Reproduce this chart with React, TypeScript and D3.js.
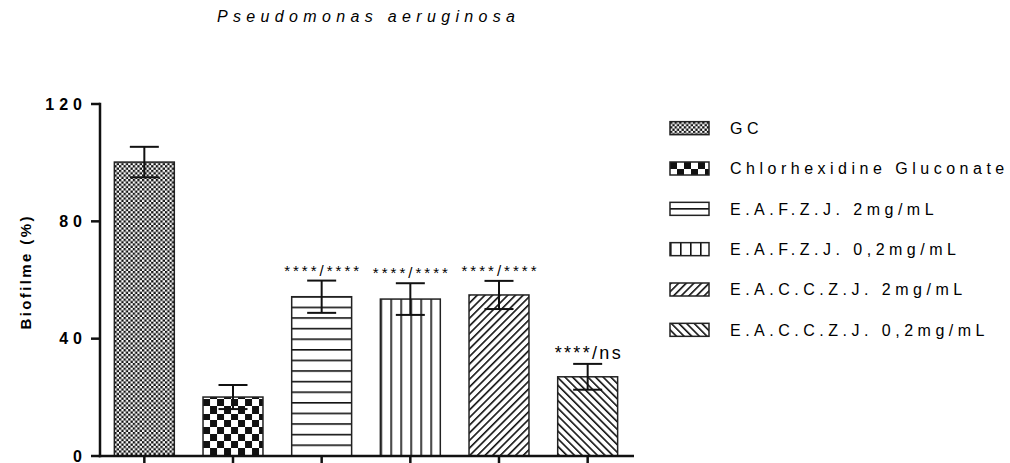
import React from 'react';
import * as d3 from 'd3';

const categories = [
  'GC',
  'Chlorhexidine Gluconate',
  'E.A.F.Z.J. 2mg/mL',
  'E.A.F.Z.J. 0,2mg/mL',
  'E.A.C.C.Z.J. 2mg/mL',
  'E.A.C.C.Z.J. 0,2mg/mL',
];
const means = [100.2, 20.1, 54.3, 53.5, 54.9, 27.0];
const errors = [5.2, 4.1, 5.5, 5.4, 4.8, 4.4];
const annotations = ['', '', '****/****', '****/****', '****/****', '****/ns'];
const patternKinds = ['fine', 'checker', 'hlines', 'vlines', 'diag', 'backdiag'];
const yTicks = [0, 40, 80, 120];

const FONT = "'Liberation Sans', Arial, sans-serif";
const INK = '#111';

function Pattern({ id, kind, ox, oy }: { id: string; kind: string; ox: number; oy: number }) {
  if (kind === 'fine') {
    const c = 2.3;
    return (
      <pattern id={id} patternUnits="userSpaceOnUse" width={2 * c} height={2 * c} patternTransform={`translate(${ox},${oy})`}>
        <rect width={2 * c} height={2 * c} fill="#fff" />
        <rect x={0} y={0} width={c} height={c} fill={INK} />
        <rect x={c} y={c} width={c} height={c} fill={INK} />
      </pattern>
    );
  }
  if (kind === 'checker') {
    const c = 7;
    return (
      <pattern id={id} patternUnits="userSpaceOnUse" width={2 * c} height={2 * c} patternTransform={`translate(${ox},${oy})`}>
        <rect width={2 * c} height={2 * c} fill="#fff" />
        <rect x={0} y={0} width={c} height={c} fill={INK} />
        <rect x={c} y={c} width={c} height={c} fill={INK} />
      </pattern>
    );
  }
  if (kind === 'hlines') {
    const s = 10.6;
    return (
      <pattern id={id} patternUnits="userSpaceOnUse" width={10} height={s} patternTransform={`translate(${ox},${oy})`}>
        <rect width={10} height={s} fill="#fff" />
        <rect x={0} y={0} width={10} height={1.6} fill={INK} />
      </pattern>
    );
  }
  if (kind === 'vlines') {
    const s = 10;
    return (
      <pattern id={id} patternUnits="userSpaceOnUse" width={s} height={10} patternTransform={`translate(${ox},${oy})`}>
        <rect width={s} height={10} fill="#fff" />
        <rect x={0} y={0} width={1.6} height={10} fill={INK} />
      </pattern>
    );
  }
  const s = 5.4;
  const rot = kind === 'diag' ? 45 : -45;
  return (
    <pattern id={id} patternUnits="userSpaceOnUse" width={s} height={s} patternTransform={`translate(${ox},${oy}) rotate(${rot})`}>
      <rect width={s} height={s} fill="#fff" />
      <rect x={0} y={0} width={1.6} height={s} fill={INK} />
    </pattern>
  );
}

export default function App() {
  const x = d3.scaleBand<string>().domain(categories).range([100, 632]).paddingInner(0.324).paddingOuter(0.162);
  const y = d3.scaleLinear().domain([0, 120]).range([456, 104]);
  const bw = x.bandwidth();
  const legendY = d3.scaleBand<string>().domain(categories).range([108, 350]);
  const swX = 670;
  const swW = 39;
  const swH = 13;

  return (
    <div style={{ position: 'absolute', left: 0, top: 0 }}>
      <svg width={1010} height={463} style={{ display: 'block', background: '#fff' }} fontFamily={FONT}>
        <defs>
          {categories.map((c, i) => (
            <Pattern key={'b' + i} id={'pb' + i} kind={patternKinds[i]} ox={x(c)!} oy={y(0) - 1} />
          ))}
          {categories.map((c, i) => (
            <Pattern
              key={'l' + i}
              id={'pl' + i}
              kind={patternKinds[i]}
              ox={swX}
              oy={legendY(c)! + legendY.bandwidth() / 2 - (patternKinds[i] === 'hlines' ? 0.8 : swH / 2)}
            />
          ))}
        </defs>

        <text
          x={217}
          y={22}
          fontSize={16}
          fontStyle="italic"
          fill="#000"
          textLength={298}
          lengthAdjust="spacing"
        >
          Pseudomonas aeruginosa
        </text>

        {/* bars */}
        {categories.map((c, i) => (
          <rect
            key={'bar' + i}
            x={x(c)}
            y={y(means[i])}
            width={bw}
            height={y(0) - y(means[i])}
            fill={`url(#pb${i})`}
            stroke="#222"
            strokeWidth={1.5}
          />
        ))}

        {/* error bars */}
        {categories.map((c, i) => {
          const cx = x(c)! + bw / 2;
          const top = y(means[i] + errors[i]);
          const bot = y(means[i] - errors[i]);
          return (
            <g key={'err' + i} stroke={INK} strokeWidth={2}>
              <line x1={cx} x2={cx} y1={top} y2={bot} />
              <line x1={cx - 14.5} x2={cx + 14.5} y1={top} y2={top} />
              <line x1={cx - 14.5} x2={cx + 14.5} y1={bot} y2={bot} />
            </g>
          );
        })}

        {/* annotations */}
        {categories.map((c, i) =>
          annotations[i] ? (
            <text
              key={'ann' + i}
              x={x(c)! + bw / 2}
              y={y(means[i] + errors[i]) - 5}
              textAnchor="middle"
              fontSize={annotations[i].endsWith('ns') ? 18 : 15}
              textLength={annotations[i].endsWith('ns') ? 66 : 75}
              lengthAdjust="spacing"
              fill="#000"
            >
              {annotations[i]}
            </text>
          ) : null
        )}

        {/* y axis */}
        <line x1={100} x2={100} y1={y(120) - 1.2} y2={y(0) + 1.2} stroke={INK} strokeWidth={2.5} />
        {yTicks.map((t) => (
          <g key={'yt' + t}>
            <line x1={91} x2={100} y1={y(t)} y2={y(t)} stroke={INK} strokeWidth={2.5} />
            <text
              x={82}
              y={y(t)}
              dy="0.36em"
              textAnchor="end"
              fontSize={16}
              fontWeight="bold"
              letterSpacing={5}
              dx={5}
              fill="#000"
            >
              {t}
            </text>
          </g>
        ))}

        {/* x axis */}
        <line x1={98.8} x2={634} y1={y(0)} y2={y(0)} stroke={INK} strokeWidth={2.5} />
        {categories.map((c, i) => (
          <line key={'xt' + i} x1={x(c)! + bw / 2} x2={x(c)! + bw / 2} y1={y(0)} y2={y(0) + 9} stroke={INK} strokeWidth={2.5} />
        ))}

        {/* y label */}
        <text
          transform={`translate(31,273) rotate(-90)`}
          textAnchor="middle"
          fontSize={15}
          fontWeight="bold"
          textLength={113}
          lengthAdjust="spacing"
          fill="#000"
        >
          Biofilme (%)
        </text>

        {/* legend */}
        {categories.map((c, i) => {
          const cy = legendY(c)! + legendY.bandwidth() / 2;
          return (
            <g key={'lg' + i}>
              <rect
                x={swX}
                y={cy - swH / 2}
                width={swW}
                height={swH}
                fill={`url(#pl${i})`}
                stroke="#222"
                strokeWidth={1.5}
              />
              <text x={730} y={cy} dy="0.36em" fontSize={16} letterSpacing={4.5} fill="#000">
                {c}
              </text>
            </g>
          );
        })}
      </svg>
    </div>
  );
}
